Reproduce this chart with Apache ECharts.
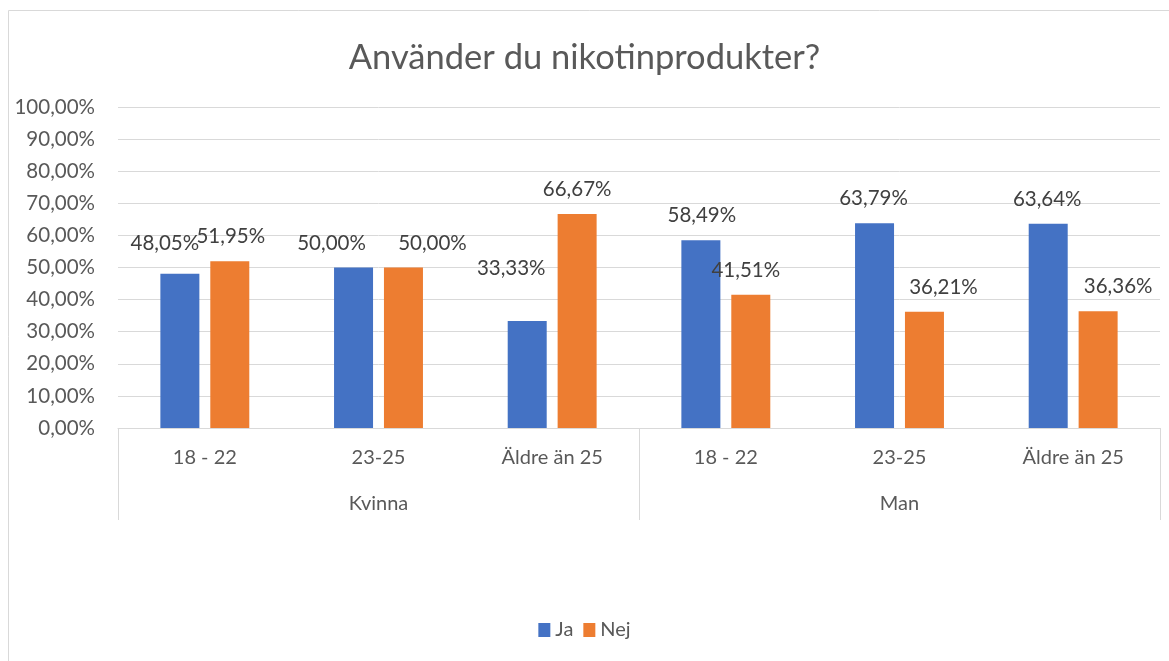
<!DOCTYPE html>
<html>
<head>
<meta charset="utf-8">
<title>Använder du nikotinprodukter?</title>
<script src="https://cdn.jsdelivr.net/npm/echarts@6/dist/echarts.min.js"></script>
<style>
  html, body { margin: 0; padding: 0; background: #fff; }
  #chart { width: 1169px; height: 661px; }
</style>
</head>
<body>
<div id="chart"></div>
<script>
// data
var ageGroups = ['18 - 22', '23-25', 'Äldre än 25', '18 - 22', '23-25', 'Äldre än 25'];
var genders = ['Kvinna', 'Man'];
var ja = [48.05, 50.00, 33.33, 58.49, 63.79, 63.64];
var nej = [51.95, 50.00, 66.67, 41.51, 36.21, 36.36];
var yTicks = [0, 10, 20, 30, 40, 50, 60, 70, 80, 90, 100];

// manual label nudges (Excel labels were dragged around a bit)
var jaNudge = [[-15, -6], [-22, 0], [-16, -28], [1, 0], [-1, 0], [-1, 0]];
var nejNudge = [[1, 0], [29, 0], [0, 0], [-5, 0], [19, 0], [20, 0]];

var font = 'Lato, "Open Sans", sans-serif';
var grey = '#595959';
var lineGrey = '#d9d9d9';

function pct(v) {
  return v.toFixed(2).replace('.', ',') + '%';
}

function withNudge(values, nudges) {
  return values.map(function (v, i) {
    return { value: v, label: { offset: nudges[i] } };
  });
}

var myChart = echarts.init(document.getElementById('chart'));

myChart.setOption({
  animation: false,
  title: {
    text: 'Använder du nikotinprodukter?',
    left: 'center',
    top: 35,
    textStyle: { fontFamily: font, fontSize: 34.5, fontWeight: 'normal', color: grey }
  },
  graphic: [{
    type: 'rect',
    silent: true,
    shape: { x: 8.5, y: 10.5, width: 1170, height: 660 },
    style: { fill: 'none', stroke: lineGrey, lineWidth: 1 }
  }],
  legend: {
    bottom: 16,
    left: 'center',
    itemWidth: 12,
    itemHeight: 14,
    itemGap: 10,
    icon: 'rect',
    textStyle: { fontFamily: font, fontSize: 20, color: grey },
    data: ['Ja', 'Nej']
  },
  grid: { left: 118, right: 9, top: 107, bottom: 233 },
  xAxis: [{
    type: 'category',
    data: ageGroups,
    axisLine: { lineStyle: { color: lineGrey } },
    axisTick: { show: false },
    axisLabel: { margin: 20, fontFamily: font, fontSize: 20, color: grey, interval: 0 }
  }, {
    type: 'category',
    data: genders,
    position: 'bottom',
    offset: 0,
    axisLine: { show: false },
    axisTick: { show: true, length: 92, lineStyle: { color: lineGrey } },
    axisLabel: { margin: 66, fontFamily: font, fontSize: 20, color: grey }
  }],
  yAxis: {
    type: 'value',
    min: yTicks[0],
    max: yTicks[yTicks.length - 1],
    interval: 10,
    axisLine: { show: false },
    axisTick: { show: false },
    splitLine: { lineStyle: { color: lineGrey, width: 1 } },
    axisLabel: { margin: 23, fontFamily: font, fontSize: 20.5, color: grey, formatter: pct }
  },
  series: [{
    name: 'Ja',
    type: 'bar',
    xAxisIndex: 0,
    barWidth: 39,
    barGap: '28%',
    itemStyle: { color: '#4472C4' },
    label: {
      show: true, position: 'top', distance: 14,
      fontFamily: font, fontSize: 20.5, color: '#404040',
      formatter: function (p) { return pct(p.value); }
    },
    data: withNudge(ja, jaNudge)
  }, {
    name: 'Nej',
    type: 'bar',
    xAxisIndex: 0,
    barWidth: 39,
    barGap: '28%',
    itemStyle: { color: '#ED7D31' },
    label: {
      show: true, position: 'top', distance: 14,
      fontFamily: font, fontSize: 20.5, color: '#404040',
      formatter: function (p) { return pct(p.value); }
    },
    data: withNudge(nej, nejNudge)
  }]
});
</script>
</body>
</html>
